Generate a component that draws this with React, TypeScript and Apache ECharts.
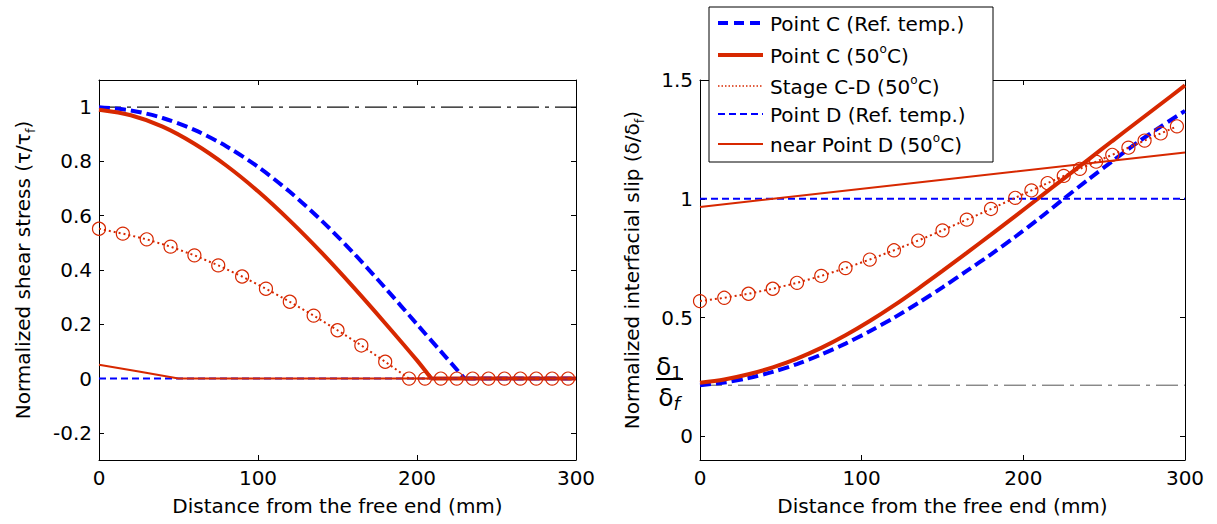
import React, { useEffect, useRef } from "react";
import * as echarts from "echarts";

const FONT = "DejaVu Sans";
const RED = "#D72800";
const BLUE = "#0000FF";

// ticks
const xTicks = [0, 100, 200, 300];
const leftYTicks = [-0.2, 0, 0.2, 0.4, 0.6, 0.8, 1];
const rightYTicks = [0, 0.5, 1, 1.5];

// ---- left panel: normalized shear stress ----
const leftXPointC = [0, 20, 40, 60, 80, 100, 120, 140, 160, 180, 200, 215, 230];
const leftPointCRef = [1.0, 0.988, 0.96, 0.916, 0.856, 0.78, 0.688, 0.582, 0.463, 0.334, 0.2, 0.1, 0];
const leftXPointCTail = [230, 300];
const leftPointCRefTail = [0, 0];
const leftXPointC50 = [0, 20, 40, 60, 80, 100, 120, 140, 160, 180, 200, 209];
const leftPointC50 = [0.99, 0.97, 0.928, 0.865, 0.785, 0.69, 0.582, 0.464, 0.337, 0.204, 0.067, 0];
const leftXPointC50Tail = [209, 300];
const leftPointC50Tail = [0, 0];
const stageX = [0, 15, 30, 45, 60, 75, 90, 105, 120, 135, 150, 165, 180, 195, 205, 215, 225, 235, 245, 255, 265, 275, 285, 295];
const leftStageCD = [0.552, 0.534, 0.513, 0.486, 0.454, 0.417, 0.376, 0.331, 0.283, 0.232, 0.178, 0.122, 0.062, 0, 0, 0, 0, 0, 0, 0, 0, 0, 0, 0];
const leftXPointD = [0, 300];
const leftPointDRef = [0, 0];
const leftXNearD = [0, 25, 50, 300];
const leftNearD50 = [0.051, 0.026, 0, 0];
const leftRefX = [0, 300];
const leftRefLevel = [1, 1];

// ---- right panel: normalized interfacial slip ----
const rightX = [0, 15, 30, 45, 60, 75, 90, 105, 120, 135, 150, 165, 180, 195, 210, 225, 240, 255, 270, 285, 300];
const rightPointCRef = [0.215, 0.226, 0.245, 0.271, 0.304, 0.344, 0.39, 0.442, 0.499, 0.561, 0.627, 0.696, 0.766, 0.84, 0.918, 1.0, 1.08, 1.158, 1.234, 1.304, 1.37];
const rightPointC50 = [0.225, 0.239, 0.261, 0.29, 0.327, 0.372, 0.425, 0.485, 0.551, 0.622, 0.696, 0.772, 0.849, 0.927, 1.006, 1.085, 1.164, 1.243, 1.321, 1.399, 1.477];
const rightStageCD = [0.569, 0.583, 0.6, 0.621, 0.646, 0.675, 0.708, 0.744, 0.783, 0.824, 0.867, 0.912, 0.957, 1.004, 1.035, 1.066, 1.096, 1.126, 1.156, 1.185, 1.215, 1.245, 1.275, 1.305];
const rightXPointD = [0, 300];
const rightPointDRef = [1, 1];
const rightXNearD = [0, 150, 300];
const rightNearD50 = [0.965, 1.08, 1.195];
const rightRefX = [0, 300];
const rightRefLevel = [0.215, 0.215];

const legendNames = [
  "Point C (Ref. temp.)",
  "Point C (50{sup|o}C)",
  "Stage C-D (50{sup|o}C)",
  "Point D (Ref. temp.)",
  "near Point D (50{sup|o}C)",
];

const zip = (xs: number[], ys: number[]) => xs.map((x, i) => [x, ys[i]]);

const fmt = (v: number) => String(Math.round(v * 10) / 10);

function xAxis(grid: number, position: "top" | "bottom", labels: boolean) {
  return {
    type: "value",
    gridIndex: grid,
    position,
    min: 0,
    max: 300,
    interval: 100,
    axisLine: { show: true, onZero: false, lineStyle: { color: "#000", width: 1 } },
    axisTick: { show: true, inside: true, length: 5, lineStyle: { color: "#000" } },
    axisLabel: { show: labels, margin: 8, fontFamily: FONT, fontSize: 20, color: "#000", customValues: xTicks },
    splitLine: { show: false },
    name: labels ? "Distance from the free end (mm)" : "",
    nameLocation: "middle",
    nameGap: 36,
    nameTextStyle: { fontFamily: FONT, fontSize: 20, color: "#000" },
  };
}

function yAxis(grid: number, position: "left" | "right", labels: boolean, min: number, max: number, ticks: number[], name: string, gap: number) {
  return {
    type: "value",
    gridIndex: grid,
    position,
    min,
    max,
    axisLine: { show: true, onZero: false, lineStyle: { color: "#000", width: 1 } },
    axisTick: { show: true, inside: true, length: 5, lineStyle: { color: "#000" }, customValues: ticks },
    axisLabel: { show: labels, margin: 7, fontFamily: FONT, fontSize: 20, color: "#000", customValues: ticks, formatter: fmt },
    splitLine: { show: false },
    name: labels ? name : "",
    nameLocation: "middle",
    nameGap: gap,
    nameTextStyle: {
      fontFamily: FONT,
      fontSize: 20,
      color: "#000",
      lineHeight: 28,
      rich: { sub: { fontFamily: FONT, fontSize: 13, lineHeight: 13, verticalAlign: "bottom", color: "#000" } },
    },
  };
}

function lineSeries(name: string, xi: number, yi: number, data: number[][], color: string, width: number, type: any, z = 2, smooth: any = false) {
  return {
    name,
    type: "line",
    xAxisIndex: xi,
    yAxisIndex: yi,
    data,
    symbol: "none",
    silent: true,
    smooth,
    z,
    lineStyle: { color, width, type },
    itemStyle: { color },
  };
}

function stageSeries(xi: number, yi: number, data: number[][]) {
  return {
    name: "Stage C-D (50oC)",
    type: "line",
    xAxisIndex: xi,
    yAxisIndex: yi,
    data,
    symbol: "circle",
    symbolSize: 13,
    showAllSymbol: true,
    silent: true,
    z: 3,
    lineStyle: { color: RED, width: 2, type: [2, 3] },
    itemStyle: { color: "rgba(0,0,0,0)", borderColor: RED, borderWidth: 1.2 },
  };
}

const supRich = { sup: { fontFamily: FONT, fontSize: 12, lineHeight: 12, verticalAlign: "top", fill: "#000" } };

function legendGraphics() {
  const x1 = 718;
  const x2 = 763;
  const rows = [23, 55, 86, 114, 144];
  const samples = [
    { stroke: BLUE, lineWidth: 4, lineDash: [10, 6] },
    { stroke: RED, lineWidth: 4, lineDash: null },
    { stroke: RED, lineWidth: 1.5, lineDash: [1.5, 2] },
    { stroke: BLUE, lineWidth: 2, lineDash: [7, 4] },
    { stroke: RED, lineWidth: 2, lineDash: null },
  ];
  const els: any[] = [
    {
      type: "rect",
      z: 100,
      shape: { x: 709, y: 7, width: 284, height: 155 },
      style: { fill: "#fff", stroke: "#000", lineWidth: 1 },
    },
  ];
  rows.forEach((y, i) => {
    els.push({
      type: "line",
      z: 101,
      shape: { x1, y1: y, x2, y2: y },
      style: { stroke: samples[i].stroke, lineWidth: samples[i].lineWidth, lineDash: samples[i].lineDash },
    });
    els.push({
      type: "text",
      z: 101,
      x: 770,
      y: y + 1,
      style: {
        text: legendNames[i],
        fontFamily: FONT,
        fontSize: 20,
        lineHeight: 26,
        fill: "#000",
        align: "left",
        verticalAlign: "middle",
        rich: supRich,
      },
    });
  });
  return els;
}

function deltaLabel() {
  return [
    {
      type: "text",
      z: 50,
      x: 669,
      y: 366,
      style: {
        text: "δ{s|1}",
        fontFamily: FONT,
        fontSize: 25,
        lineHeight: 30,
        fill: "#000",
        align: "center",
        verticalAlign: "middle",
        rich: { s: { fontFamily: FONT, fontSize: 17, lineHeight: 17, verticalAlign: "bottom", fill: "#000" } },
      },
    },
    {
      type: "line",
      z: 50,
      shape: { x1: 656, y1: 379, x2: 683, y2: 379 },
      style: { stroke: "#000", lineWidth: 2 },
    },
    {
      type: "text",
      z: 50,
      x: 669,
      y: 397,
      style: {
        text: "δ{s|f}",
        fontFamily: FONT,
        fontSize: 25,
        lineHeight: 30,
        fill: "#000",
        align: "center",
        verticalAlign: "middle",
        rich: { s: { fontFamily: FONT, fontSize: 18, fontStyle: "italic", lineHeight: 18, verticalAlign: "bottom", fill: "#000" } },
      },
    },
  ];
}

export default function App() {
  const ref = useRef<HTMLDivElement>(null);
  useEffect(() => {
    if (!ref.current) return;
    const chart = echarts.init(ref.current, null, { renderer: "svg" });
    const S = 0.3;
    const option: any = {
      animation: false,
      backgroundColor: "#fff",
      grid: [
        { left: 99, top: 80, width: 477, height: 380 },
        { left: 700, top: 80, width: 485, height: 380 },
      ],
      xAxis: [xAxis(0, "bottom", true), xAxis(0, "top", false), xAxis(1, "bottom", true), xAxis(1, "top", false)],
      yAxis: [
        yAxis(0, "left", true, -0.3, 1.1, leftYTicks, "Normalized shear stress (τ/τ{sub|f})", 62),
        yAxis(0, "right", false, -0.3, 1.1, leftYTicks, "", 0),
        yAxis(1, "left", true, -0.1, 1.5, rightYTicks, "Normalized interfacial slip (δ/δ{sub|f})", 54),
        yAxis(1, "right", false, -0.1, 1.5, rightYTicks, "", 0),
      ],
      series: [
        lineSeries("ref-left", 0, 0, zip(leftRefX, leftRefLevel), "#111", 1.2, [22, 6, 4, 6], 1),
        lineSeries("Point C (Ref. temp.)", 0, 0, zip(leftXPointC, leftPointCRef), BLUE, 4, [11, 5], 2, S),
        lineSeries("Point C (Ref. temp.) tail", 0, 0, zip(leftXPointCTail, leftPointCRefTail), BLUE, 4, [11, 5], 2),
        lineSeries("Point C (50oC)", 0, 0, zip(leftXPointC50, leftPointC50), RED, 4, "solid", 2, S),
        lineSeries("Point C (50oC) tail", 0, 0, zip(leftXPointC50Tail, leftPointC50Tail), RED, 4, "solid", 2),
        stageSeries(0, 0, zip(stageX, leftStageCD)),
        lineSeries("Point D (Ref. temp.)", 0, 0, zip(leftXPointD, leftPointDRef), BLUE, 2, [7, 4]),
        lineSeries("near Point D (50oC)", 0, 0, zip(leftXNearD, leftNearD50), RED, 2, "solid"),

        lineSeries("ref-right", 2, 2, zip(rightRefX, rightRefLevel), "#555", 1, [22, 6, 4, 6], 1),
        lineSeries("Point C (Ref. temp.)", 2, 2, zip(rightX, rightPointCRef), BLUE, 4, [11, 5], 2, S),
        lineSeries("Point C (50oC)", 2, 2, zip(rightX, rightPointC50), RED, 4, "solid", 2, S),
        stageSeries(2, 2, zip(stageX, rightStageCD)),
        lineSeries("Point D (Ref. temp.)", 2, 2, zip(rightXPointD, rightPointDRef), BLUE, 2, [7, 4]),
        lineSeries("near Point D (50oC)", 2, 2, zip(rightXNearD, rightNearD50), RED, 2, "solid"),
      ],
      graphic: [...legendGraphics(), ...deltaLabel()],
    };
    chart.setOption(option);
    return () => chart.dispose();
  }, []);
  return (
    <div
      ref={ref}
      style={{ position: "absolute", left: 0, top: 0, width: 1217, height: 524, background: "#fff" }}
    />
  );
}
